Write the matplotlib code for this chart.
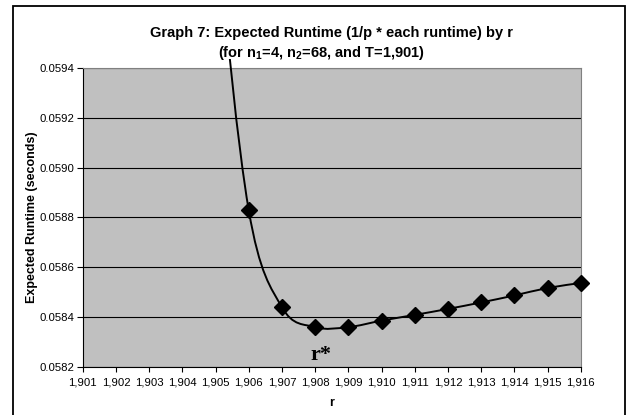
import matplotlib
matplotlib.use('Agg')
import matplotlib.pyplot as plt
from matplotlib.path import Path
from matplotlib.patches import PathPatch, Rectangle
from matplotlib.ticker import FuncFormatter

plt.rcParams['font.family'] = ['Liberation Sans', 'DejaVu Sans']
plt.rcParams['mathtext.fontset'] = 'custom'
plt.rcParams['mathtext.rm'] = 'Liberation Sans:bold'
plt.rcParams['mathtext.it'] = 'Liberation Sans:bold'
plt.rcParams['mathtext.bf'] = 'Liberation Sans:bold'

# data (1904 and 1905 lie above the visible range)
r_vals = [1904, 1905, 1906, 1907, 1908, 1909, 1910, 1911, 1912, 1913, 1914, 1915, 1916]
runtime = [0.0615, 0.0600, 0.05883, 0.05844, 0.05836, 0.05836, 0.058386,
           0.058409, 0.058433, 0.058459, 0.058487, 0.058517, 0.058537]
x_ticks = list(range(1901, 1917))
y_ticks = [0.0582, 0.0584, 0.0586, 0.0588, 0.0590, 0.0592, 0.0594]

fig = plt.figure(figsize=(6.28, 4.15), dpi=100)
ax = fig.add_axes([0.1317, 0.1157, 0.793, 0.7205])
ax.set_facecolor('#C0C0C0')

# smoothed line like Excel (bezier with catmull-rom control points)
verts = [(r_vals[0], runtime[0])]
codes = [Path.MOVETO]
n = len(r_vals)
for i in range(n - 1):
    i0 = max(i - 1, 0)
    i3 = min(i + 2, n - 1)
    c1 = (r_vals[i] + (r_vals[i + 1] - r_vals[i0]) / 6, runtime[i] + (runtime[i + 1] - runtime[i0]) / 6)
    c2 = (r_vals[i + 1] - (r_vals[i3] - r_vals[i]) / 6, runtime[i + 1] - (runtime[i3] - runtime[i]) / 6)
    verts += [c1, c2, (r_vals[i + 1], runtime[i + 1])]
    codes += [Path.CURVE4] * 3
curve = PathPatch(Path(verts, codes), facecolor='none', edgecolor='black', lw=1.4, zorder=3)
ax.add_patch(curve)
clip = Rectangle((0, 0), 1, 1.03, transform=ax.transAxes)
curve.set_clip_path(clip)

ax.plot(r_vals, runtime, linestyle='none', marker='D', markersize=8,
        color='black', zorder=4, clip_on=False)

ax.set_xlim(1901, 1916)
ax.set_ylim(0.0582, 0.0594)
ax.set_xticks(x_ticks)
ax.set_yticks(y_ticks)
ax.xaxis.set_major_formatter(FuncFormatter(lambda v, p: f'{v:,.0f}'))
ax.yaxis.set_major_formatter(FuncFormatter(lambda v, p: f'{v:.4f}'))
ax.tick_params(axis='y', length=4, width=0.8, pad=2, labelsize=8.2)
ax.tick_params(axis='x', length=3.5, width=0.8, pad=4, labelsize=8.2)
ax.yaxis.grid(True, color='black', lw=0.8)
ax.set_axisbelow(True)
for s in ['left', 'bottom']:
    ax.spines[s].set_color('black')
    ax.spines[s].set_linewidth(0.8)
for s in ['top', 'right']:
    ax.spines[s].set_color('#808080')
    ax.spines[s].set_linewidth(0.8)

ax.text(1907.85, 0.058228, 'r*', fontsize=16, fontweight='bold',
        family='Liberation Serif', ha='left', va='baseline')

fig.text(0.528, 0.9116, 'Graph 7: Expected Runtime (1/p * each runtime) by r',
         ha='center', va='baseline', fontsize=10.5, fontweight='bold')
fig.text(0.512, 0.8634, '(for n$_1$=4, n$_2$=68, and T=1,901)',
         ha='center', va='baseline', fontsize=10.5, fontweight='bold')
fig.text(0.051, 0.476, 'Expected Runtime (seconds)', rotation=90,
         ha='center', va='center', fontsize=9, fontweight='bold')
fig.text(0.528, 0.029, 'r', ha='center', va='center', fontsize=9, fontweight='bold')

# outer frame
fig.add_artist(Rectangle((12.5 / 628, -0.05), (625 - 12.5) / 628, 1.05 - 6 / 415,
                         transform=fig.transFigure, fill=False, lw=1.3,
                         edgecolor='black', clip_on=False))

fig.savefig('out.png', dpi=100)
